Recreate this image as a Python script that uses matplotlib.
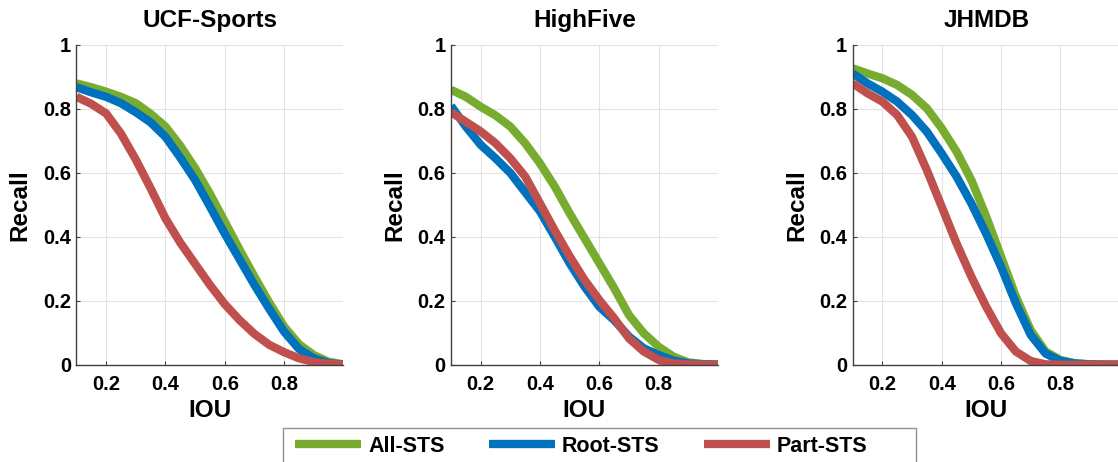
import matplotlib.pyplot as plt
from matplotlib.patches import Rectangle

plt.rcParams['font.family'] = ['Liberation Sans', 'DejaVu Sans']
plt.rcParams['font.weight'] = 'bold'

# ---- data (IOU -> recall)
iou = [0.10, 0.15, 0.20, 0.25, 0.30, 0.35, 0.40, 0.45, 0.50, 0.55,
       0.60, 0.65, 0.70, 0.75, 0.80, 0.85, 0.90, 0.95, 1.00]

titles = ['UCF-Sports', 'HighFive', 'JHMDB']
methods = ['All-STS', 'Root-STS', 'Part-STS']
colors = ['#77AC30', '#0072BD', '#C0504D']

ucf_all = [0.88, 0.868, 0.854, 0.838, 0.818, 0.785, 0.745, 0.685, 0.615, 0.535,
           0.448, 0.36, 0.276, 0.195, 0.12, 0.065, 0.031, 0.01, 0.002]
ucf_root = [0.868, 0.852, 0.838, 0.818, 0.79, 0.758, 0.713, 0.648, 0.578, 0.495,
            0.41, 0.33, 0.25, 0.175, 0.104, 0.05, 0.021, 0.006, 0.001]
ucf_part = [0.838, 0.816, 0.786, 0.723, 0.642, 0.552, 0.458, 0.382, 0.316, 0.25,
            0.19, 0.14, 0.097, 0.063, 0.04, 0.021, 0.009, 0.004, 0.001]

hf_all = [0.86, 0.838, 0.807, 0.78, 0.745, 0.693, 0.63, 0.557, 0.474, 0.396,
          0.318, 0.24, 0.156, 0.099, 0.057, 0.026, 0.008, 0.003, 0.001]
hf_root = [0.81, 0.745, 0.688, 0.646, 0.6, 0.54, 0.48, 0.40, 0.318, 0.245,
           0.182, 0.14, 0.089, 0.052, 0.031, 0.014, 0.005, 0.002, 0.001]
hf_part = [0.79, 0.76, 0.73, 0.693, 0.646, 0.589, 0.505, 0.42, 0.34, 0.266,
           0.203, 0.146, 0.083, 0.042, 0.016, 0.005, 0.002, 0.001, 0.001]

jh_all = [0.927, 0.911, 0.896, 0.875, 0.844, 0.802, 0.74, 0.667, 0.578, 0.464,
          0.339, 0.214, 0.109, 0.042, 0.016, 0.005, 0.002, 0.001, 0.001]
jh_root = [0.911, 0.88, 0.854, 0.823, 0.781, 0.729, 0.661, 0.589, 0.505, 0.41,
           0.307, 0.193, 0.094, 0.036, 0.0125, 0.005, 0.002, 0.001, 0.001]
jh_part = [0.88, 0.849, 0.823, 0.781, 0.713, 0.609, 0.495, 0.38, 0.276, 0.182,
           0.099, 0.042, 0.0125, 0.002, 0.001, 0.001, 0.001, 0.001, 0.001]

recall = [[ucf_all, ucf_root, ucf_part],
          [hf_all, hf_root, hf_part],
          [jh_all, jh_root, jh_part]]

# ---- figure
fig = plt.figure(figsize=(11.18, 4.62), dpi=100)
lefts = [0.0684, 0.4034, 0.7627]
axes = [fig.add_axes([l, 0.21, 0.2388, 0.6926]) for l in lefts]

for ax, title, curves in zip(axes, titles, recall):
    for name, col, vals in zip(methods, colors, curves):
        ax.plot(iou, vals, color=col, lw=6, label=name, solid_capstyle='butt')
    ax.set_xlim(0.1, 1.0)
    ax.set_ylim(0, 1)
    ax.set_xticks([0.2, 0.4, 0.6, 0.8])
    ax.set_xticklabels(['0.2', '0.4', '0.6', '0.8'])
    ax.set_yticks([0, 0.2, 0.4, 0.6, 0.8, 1])
    ax.set_yticklabels(['0', '0.2', '0.4', '0.6', '0.8', '1'])
    ax.grid(True, color='#e3e3e3', lw=0.8)
    ax.set_axisbelow(True)
    for s in ['top', 'right']:
        ax.spines[s].set_visible(False)
    for s in ['left', 'bottom']:
        ax.spines[s].set_color('#404040')
        ax.spines[s].set_linewidth(1.0)
    ax.tick_params(direction='in', length=3, width=0.8, color='#404040',
                   labelsize=14.5)
    ax.tick_params(axis='x', pad=7)
    ax.tick_params(axis='y', pad=4)
    ax.set_xlabel('IOU', fontsize=17.5, fontweight='bold', labelpad=4)
    ax.set_ylabel('Recall', fontsize=17.5, fontweight='bold', labelpad=8)
    ax.set_title(title, fontsize=17.5, fontweight='bold', pad=13)

# legend box (frame drawn by hand, runs off the bottom edge like the original)
fig.patches.append(Rectangle((283 / 1118, -0.05), (916 - 283) / 1118,
                             1 - 428 / 462 + 0.05, transform=fig.transFigure,
                             facecolor='white', edgecolor='#909090', lw=1.0))
handles, labels = axes[0].get_legend_handles_labels()
leg = fig.legend(handles, labels, loc='center left', ncol=3,
                 bbox_to_anchor=(295 / 1118, 1 - 446 / 462), frameon=False,
                 fontsize=15.5, handlelength=3.07, handletextpad=0.33,
                 columnspacing=2.05, borderpad=0, borderaxespad=0)
for t in leg.get_texts():
    t.set_fontweight('bold')

fig.savefig('out.png', dpi=100)
